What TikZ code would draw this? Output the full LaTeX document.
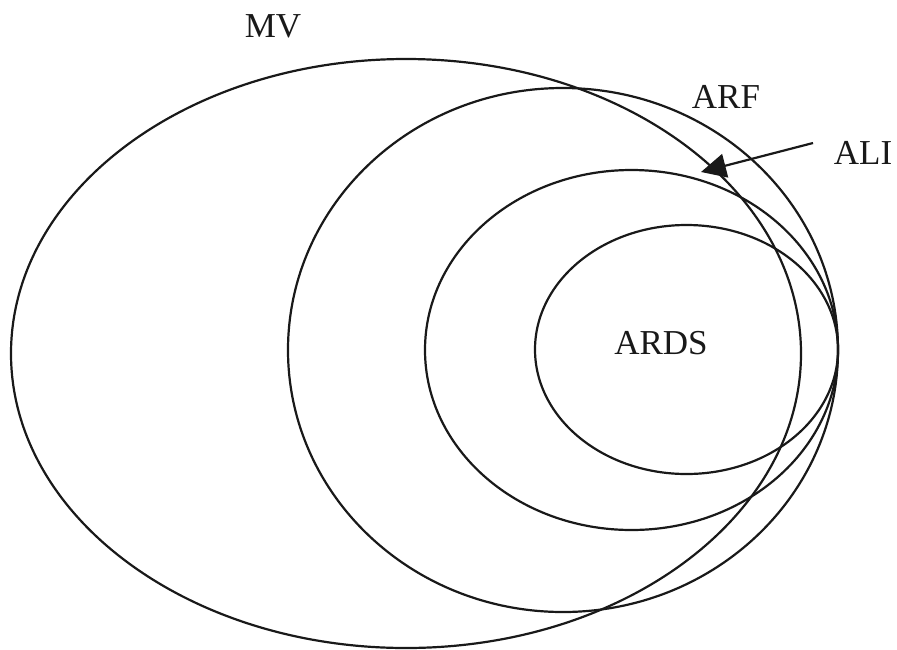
\documentclass[tikz,border=0pt]{standalone}
\usepackage{fontspec}
\setmainfont{Liberation Serif}
\usetikzlibrary{arrows.meta}
\begin{document}
\begin{tikzpicture}[x=1pt,y=-1pt,
  ring/.style={line width=2.2pt, draw=black!90},
  lbl/.style={font=\fontsize{35}{42}\selectfont, inner sep=0pt, text=black!90}]
\useasboundingbox (0,0) rectangle (897,649);
\draw[ring] (406,353.5) ellipse [x radius=395, y radius=294.5];
\draw[ring] (563,350) ellipse [x radius=275, y radius=262];
\draw[ring] (631.5,350) ellipse [x radius=206.5, y radius=180];
\draw[ring] (686.5,349.5) ellipse [x radius=151.5, y radius=124.5];
\node[lbl] (mv) at (273,26) {MV};
\node[lbl] (arf) at (726,97) {ARF};
\node[lbl] (ali) at (863,153) {ALI};
\node[lbl] (ards) at (661,343) {ARDS};
\coordinate (astart) at (813,143);
\coordinate (atip) at (701,172);
\draw[line width=2.2pt, draw=black!90, -{Triangle[length=25pt,width=24pt]}] (astart) -- (atip);
\end{tikzpicture}
\end{document}
